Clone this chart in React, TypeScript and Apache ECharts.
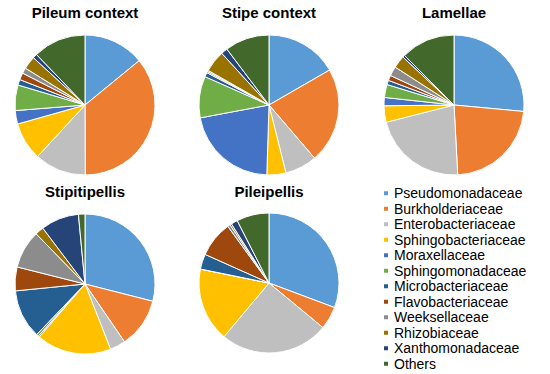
import React, { useEffect, useRef } from "react";
import * as echarts from "echarts";

const families = [
  "Pseudomonadaceae",
  "Burkholderiaceae",
  "Enterobacteriaceae",
  "Sphingobacteriaceae",
  "Moraxellaceae",
  "Sphingomonadaceae",
  "Microbacteriaceae",
  "Flavobacteriaceae",
  "Weeksellaceae",
  "Rhizobiaceae",
  "Xanthomonadaceae",
  "Others",
];

const colors = [
  "#5B9BD5",
  "#ED7D31",
  "#BFBFBF",
  "#FFC000",
  "#4472C4",
  "#70AD47",
  "#255E91",
  "#9E480E",
  "#8C8C8C",
  "#997300",
  "#264478",
  "#43682B",
];

const sampleTitles = ["Pileum context", "Stipe context", "Lamellae", "Stipitipellis", "Pileipellis"];

const pileumContext = [14.1, 35.9, 11.9, 8.8, 3.1, 5.9, 1.3, 1.6, 1.3, 3.0, 1.0, 12.2];
const stipeContext = [16.7, 22.1, 7.4, 4.4, 21.6, 9.6, 1.0, 0.3, 0.3, 5.0, 1.5, 10.3];
const lamellae = [26.5, 22.7, 21.9, 3.8, 1.9, 3.0, 1.0, 1.2, 2.2, 2.9, 0.5, 12.5];
const stipitipellis = [29.0, 11.5, 3.6, 17.3, 0.3, 0.5, 11.3, 5.5, 8.8, 2.0, 8.8, 1.5];
const pileipellis = [30.7, 5.3, 25.1, 17.1, 0, 0, 3.5, 8.3, 0.6, 0.4, 1.5, 7.5];

const samples = [pileumContext, stipeContext, lamellae, stipitipellis, pileipellis];

const centers: [number, number][] = [
  [85, 105],
  [269, 105],
  [454, 105],
  [85, 284],
  [269, 283],
];
const titleTops = [5, 5, 5, 184, 184];

export default function App() {
  const ref = useRef<HTMLDivElement>(null);
  useEffect(() => {
    if (!ref.current) return;
    const chart = echarts.init(ref.current, null, { renderer: "svg" });
    const option: any = {
      animation: false,
      color: colors,
      title: sampleTitles.map((t, i) => ({
        text: t,
        left: centers[i][0],
        top: titleTops[i],
        textAlign: "center",
        padding: 0,
        textStyle: {
          fontFamily: "Liberation Sans, Arial, sans-serif",
          fontSize: 15,
          fontWeight: "bold",
          color: "#000",
        },
      })),
      legend: {
        orient: "vertical",
        left: 382,
        top: 185.5,
        height: 200,
        padding: 0,
        itemWidth: 6,
        itemHeight: 6,
        itemGap: 0,
        selectedMode: false,
        icon: "rect",
        data: families,
        textStyle: {
          fontFamily: "Liberation Sans, Arial, sans-serif",
          fontSize: 14,
          color: "#000",
          lineHeight: 15.5,
        },
      },
      series: samples.map((vals, i) => ({
        type: "pie",
        center: centers[i],
        radius: 70,
        startAngle: 90,
        clockwise: true,
        label: { show: false },
        labelLine: { show: false },
        emphasis: { disabled: true },
        itemStyle: { borderColor: "#fff", borderWidth: 1 },
        data: families.map((f, j) => ({ name: f, value: vals[j] })),
      })),
    };
    chart.setOption(option);
    return () => chart.dispose();
  }, []);
  return (
    <div
      ref={ref}
      style={{ position: "fixed", left: 0, top: 0, width: 550, height: 374, background: "#fff" }}
    />
  );
}
